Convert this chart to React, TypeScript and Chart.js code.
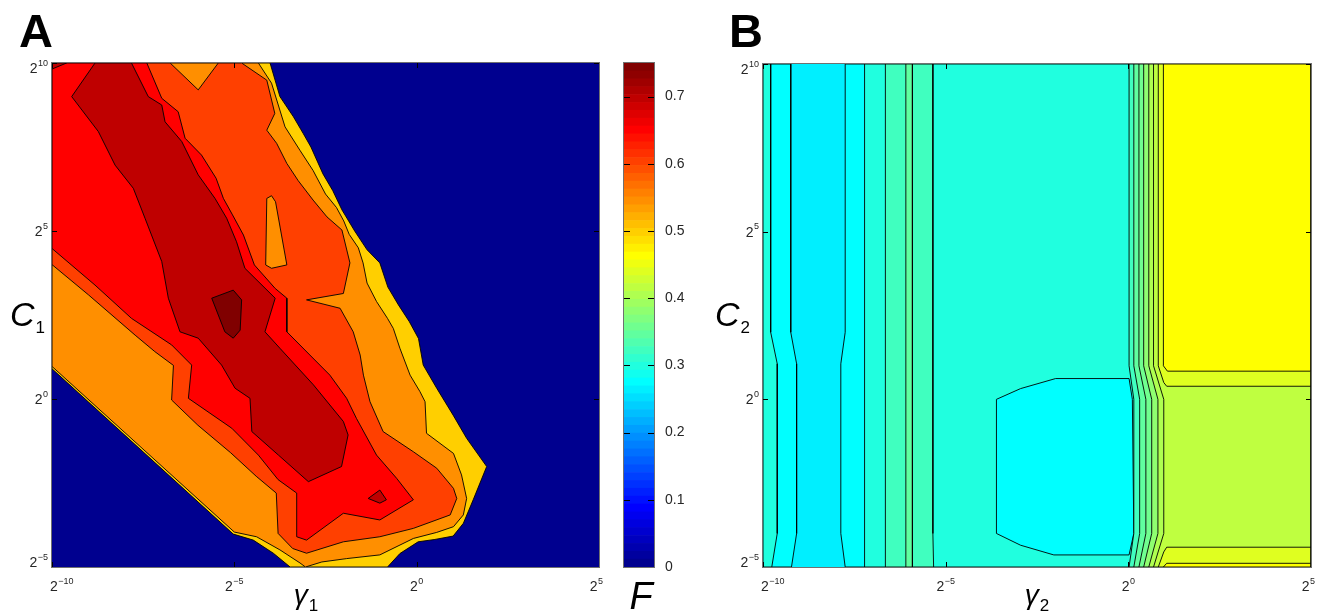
import React, { useEffect, useRef } from 'react';
import { Chart, registerables } from 'chart.js';

Chart.register(...registerables);

const W = 1321;
const H = 612;
const FONT = '"Liberation Sans", Arial, Helvetica, sans-serif';
const CMAX = 0.75; // colour axis upper limit (F)

// ---------------- Panel A : F over (log2 gamma1, log2 C1) ----------------
const A_X_RANGE = [-10, 5];
const A_Y_RANGE = [-5, 10];
const A_X_TICKS = [-10, -5, 0, 5];
const A_Y_TICKS = [-5, 0, 5, 10];

const A_BACKGROUND = [[-10, -5], [5, -5], [5, 10], [-10, 10]];
// superlevel region F >= 0.50
const A_F050 = [
  [-10, 10], [-4.02, 10], [-3.75, 9.0], [-3.38, 8.4], [-3.11, 7.9], [-2.9, 7.5], [-2.57, 6.7], [-2.3, 6.2],
  [-2.05, 5.63], [-1.7, 5.0], [-1.36, 4.44], [-1.01, 4.05], [-0.79, 3.33], [-0.5, 2.8], [-0.2, 2.3], [0.05, 1.8],
  [0.18, 1.01], [0.55, 0.32], [1.0, -0.48], [1.37, -1.17], [1.92, -2.01], [1.55, -3.0], [1.28, -3.7], [1.0, -4.08],
  [0.5, -4.18], [0.04, -4.25], [-0.46, -4.6], [-0.8, -5], [-3.47, -5], [-3.93, -4.59], [-4.48, -4.2],
  [-5.03, -4.02], [-10, 0.9],
];
// F >= 0.55
const A_F055 = [
  [-10, 10], [-4.34, 10], [-3.98, 9.4], [-3.61, 8.1], [-3.2, 7.4], [-2.84, 6.8], [-2.5, 6.1], [-2.2, 5.7],
  [-2.0, 5.3], [-1.85, 4.9], [-1.6, 4.5], [-1.47, 4.05], [-1.36, 3.45], [-1.1, 2.9], [-0.8, 2.4], [-0.64, 2.1],
  [-0.46, 1.51], [-0.18, 0.71], [0.09, 0.22], [0.23, -0.08], [0.27, -1.02], [1.01, -1.62], [1.23, -2.26],
  [1.37, -2.96], [1.28, -3.45], [1.01, -3.8], [0.55, -3.97], [-0.09, -4.15], [-1.01, -4.64], [-1.92, -4.75],
  [-2.6, -4.85], [-3.05, -5.0], [-3.2, -4.88], [-3.75, -4.49], [-4.39, -4.1], [-5.0, -3.96], [-10, 0.97],
];
// F >= 0.60
const A_F060 = [
  [-10, 10], [-6.76, 10], [-5.99, 9.2], [-5.44, 10], [-4.8, 10], [-4.11, 9.49], [-3.89, 8.5], [-4.11, 8.0],
  [-3.84, 7.61], [-3.56, 7.01], [-3.25, 6.5], [-2.84, 5.92], [-2.46, 5.42], [-2.05, 5.03], [-1.83, 4.05],
  [-2.01, 3.14], [-3.02, 2.95], [-2.1, 2.7], [-1.74, 2.0], [-1.55, 1.31], [-1.46, 0.71], [-1.28, -0.08],
  [-0.92, -0.97], [-0.09, -1.57], [0.55, -2.06], [1.01, -2.66], [1.1, -2.96], [0.92, -3.45], [-0.09, -3.85],
  [-1.01, -4.1], [-2.01, -4.25], [-3.02, -4.59], [-3.4, -4.45], [-3.8, -4.0], [-3.85, -2.8], [-4.4, -2.3],
  [-5.1, -1.6], [-6.0, -0.78], [-6.72, -0.03], [-6.67, 1.0], [-7.18, 1.41], [-7.72, 1.9], [-9.0, 3.1], [-10, 4.0],
];
// pocket below 0.60 inside the 0.60 region
const A_POCKET_055 = [[-4.11, 5.97], [-3.98, 6.05], [-3.87, 5.87], [-3.56, 3.99], [-3.98, 3.89], [-4.14, 3.99]];
// F >= 0.65
const A_F065 = [
  [-10, 10], [-7.4, 10], [-6.99, 8.95], [-6.54, 8.55], [-6.35, 7.76], [-5.9, 7.26], [-5.5, 6.57], [-5.3, 5.97],
  [-5.05, 5.48], [-4.75, 4.88], [-4.45, 3.99], [-3.88, 3.29], [-3.56, 3.0], [-3.56, 2.0], [-2.93, 1.31],
  [-2.38, 0.71], [-1.92, 0.02], [-1.65, -0.58], [-1.1, -1.67], [-0.55, -2.36], [-0.09, -3.0], [-1.01, -3.6],
  [-2.01, -3.4], [-3.02, -4.2], [-3.29, -4.1], [-3.29, -2.8], [-3.8, -2.4], [-4.34, -1.67], [-5.07, -0.87],
  [-6.26, 0.02], [-6.17, 1.01], [-6.72, 1.61], [-7.82, 2.4], [-8.82, 3.39], [-10, 4.48],
];
// F >= 0.70
const A_F070 = [
  [-8.82, 10], [-9.46, 9.0], [-8.73, 7.96], [-8.27, 6.96], [-7.77, 6.27], [-7.45, 5.38], [-6.99, 4.09],
  [-6.81, 3.0], [-6.49, 2.0], [-5.99, 1.81], [-5.35, 1.01], [-4.98, 0.32], [-4.57, 0.02], [-4.52, -0.97],
  [-3.79, -1.67], [-2.97, -2.46], [-2.06, -2.01], [-1.88, -1.07], [-2.01, -0.67], [-2.83, 0.42], [-3.75, 1.51],
  [-4.16, 2.0], [-3.88, 3.0], [-4.71, 3.89], [-4.94, 4.68], [-5.21, 5.38], [-5.53, 5.97], [-5.99, 6.67],
  [-6.44, 7.66], [-6.9, 8.25], [-6.99, 8.75], [-7.36, 9.0], [-7.82, 10],
];
const A_CORNER_070 = [[-10, 10], [-9.6, 10], [-10, 9.82]];
const A_PEAK_070 = [[-1.33, -2.96], [-1.01, -2.71], [-0.83, -3.0], [-1.01, -3.1]];
// F >= 0.75
const A_F075 = [[-5.62, 3.0], [-5.03, 3.24], [-4.8, 2.95], [-4.84, 2.05], [-5.03, 1.81], [-5.26, 2.0]];

// ---------------- Panel B : F over (log2 gamma2, log2 C2) ----------------
const B_X_RANGE = [-10, 5];
const B_Y_RANGE = [-5, 10];
const B_X_TICKS = [-10, -5, 0, 5];
const B_Y_TICKS = [-5, 0, 5, 10];

const B_BACKGROUND = [[-10, -5], [5, -5], [5, 10], [-10, 10]]; // 0.26
const B_LEFT_028 = [[-10, 10], [-9.24, 10], [-9.24, 2], [-9.08, 1.06], [-9.08, -4], [-9.22, -5], [-10, -5]];
const B_RIGHT_028 = [[-7.75, 10], [5, 10], [5, -5], [-7.75, -5], [-7.87, -4], [-7.87, 1.06], [-7.75, 2]];
const B_LEFT_030 = [[-10, 10], [-9.79, 10], [-9.79, 2], [-9.61, 1.06], [-9.61, -4], [-9.76, -5], [-10, -5]];
const B_RIGHT_030 = [[-7.22, 10], [5, 10], [5, -5], [-7.22, -5]];
const B_POCKET_028 = [
  [-3.61, 0.0], [-2.95, 0.32], [-1.99, 0.62], [0.02, 0.62], [0.11, 0.0], [0.15, -4.0], [0.02, -4.64],
  [-2.04, -4.64], [-2.95, -4.35], [-3.61, -4.0],
];
const B_STRIP_032 = [[-6.65, 10], [-5.35, 10], [-5.35, -4], [-5.33, -5], [-6.65, -5]];
const B_STRIP_034 = [[-6.09, 10], [-5.91, 10], [-5.91, -5], [-6.09, -5]];
// steep ramp near gamma2 = 2^0 : contour positions of each level
const B_RAMP_LEVELS = [0.32, 0.34, 0.36, 0.38, 0.4, 0.42];
const B_RAMP_X_TOP = [0.02, 0.15, 0.29, 0.42, 0.56, 0.69];
const B_RAMP_X_MID = [0.15, 0.31, 0.48, 0.64, 0.81, 0.97];
const B_RAMP_X_BOT = [0.02, 0.15, 0.29, 0.42, 0.56, 0.69];
const B_RAMP_BENDS = [1.0, 0.0, -4.0]; // log2 C2 rows where the ramp bends
const B_TOP_044 = [[0.82, 10], [5, 10], [5, 0.39], [1.05, 0.39], [0.97, 0.5], [0.82, 1.0]];
const B_BOT_044 = [[0.82, -5], [0.97, -4.55], [1.05, -4.41], [5, -4.41], [5, -5]];
const B_TOP_046 = [[0.96, 10], [5, 10], [5, 0.84], [1.07, 0.84], [0.96, 1.0]];
const B_BOT_046 = [[0.96, -5], [1.05, -4.89], [5, -4.89], [5, -5]];

// ---------------- colour bar ----------------
const CBAR_TICKS = [0, 0.1, 0.2, 0.3, 0.4, 0.5, 0.6, 0.7];
const N_COLORS = 64;

// MATLAB jet(64)
function jetRow(k: number) {
  const u = (j: number) =>
    j >= 1 && j <= 16 ? j / 16 : j >= 17 && j <= 31 ? 1 : j >= 32 && j <= 47 ? (48 - j) / 16 : 0;
  return [u(k - 24), u(k - 8), u(k + 8)];
}
function rowCss(k: number) {
  const [r, g, b] = jetRow(k);
  return `rgb(${Math.round(r * 255)},${Math.round(g * 255)},${Math.round(b * 255)})`;
}
function levelCss(v: number) {
  const k = Math.min(N_COLORS, Math.floor((v / CMAX) * N_COLORS + 1e-9) + 1);
  return rowCss(k);
}

const A_REGIONS = [
  { level: 0, pts: A_BACKGROUND, edge: false },
  { level: 0.5, pts: A_F050 },
  { level: 0.55, pts: A_F055 },
  { level: 0.6, pts: A_F060 },
  { level: 0.55, pts: A_POCKET_055 },
  { level: 0.65, pts: A_F065 },
  { level: 0.7, pts: A_F070 },
  { level: 0.7, pts: A_CORNER_070 },
  { level: 0.7, pts: A_PEAK_070 },
  { level: 0.75, pts: A_F075 },
];

function buildBRegions() {
  const r: any[] = [
    { level: 0.26, pts: B_BACKGROUND, edge: false },
    { level: 0.28, pts: B_LEFT_028 },
    { level: 0.28, pts: B_RIGHT_028 },
    { level: 0.3, pts: B_LEFT_030 },
    { level: 0.3, pts: B_RIGHT_030 },
    { level: 0.28, pts: B_POCKET_028 },
    { level: 0.32, pts: B_STRIP_032 },
    { level: 0.34, pts: B_STRIP_034 },
  ];
  B_RAMP_LEVELS.forEach((lv, i) => {
    const [y1, y0, y4] = B_RAMP_BENDS;
    r.push({
      level: lv,
      pts: [
        [B_RAMP_X_TOP[i], B_Y_RANGE[1]], [B_X_RANGE[1], B_Y_RANGE[1]], [B_X_RANGE[1], B_Y_RANGE[0]],
        [B_RAMP_X_BOT[i], B_Y_RANGE[0]], [B_RAMP_X_MID[i], y4], [B_RAMP_X_MID[i], y0], [B_RAMP_X_TOP[i], y1],
      ],
    });
  });
  r.push({ level: 0.44, pts: B_TOP_044 }, { level: 0.44, pts: B_BOT_044 });
  r.push({ level: 0.46, pts: B_TOP_046 }, { level: 0.46, pts: B_BOT_046 });
  return r;
}

function drawPowLabel(ctx: CanvasRenderingContext2D, exp: number, left: number, base: number) {
  const sup = exp < 0 ? '\u2212' + Math.abs(exp) : String(exp);
  ctx.font = `14px ${FONT}`;
  const wb = ctx.measureText('2').width;
  ctx.fillText('2', left, base);
  ctx.font = `9px ${FONT}`;
  ctx.fillText(sup, left + wb + 0.5, base - 7.5);
}
function powWidth(ctx: CanvasRenderingContext2D, exp: number) {
  const sup = exp < 0 ? '\u2212' + Math.abs(exp) : String(exp);
  ctx.font = `14px ${FONT}`;
  const wb = ctx.measureText('2').width;
  ctx.font = `9px ${FONT}`;
  return wb + 0.5 + ctx.measureText(sup).width;
}

function makeDecor(cfg: any) {
  return {
    id: 'decor',
    afterDraw(chart: any) {
      const { ctx, chartArea: a } = chart;
      const xs = chart.scales.x;
      const ys = chart.scales.y;
      const L = cfg.tickLen;
      ctx.save();
      ctx.lineWidth = 1;
      ctx.strokeStyle = '#000';
      (cfg.xTicks || []).forEach((t: number) => {
        const px = Math.round(xs.getPixelForValue(t)) + 0.5;
        ctx.beginPath();
        ctx.moveTo(px, a.bottom);
        ctx.lineTo(px, a.bottom - L);
        ctx.moveTo(px, a.top);
        ctx.lineTo(px, a.top + L);
        ctx.stroke();
      });
      (cfg.yTicks || []).forEach((t: number) => {
        const py = Math.round(ys.getPixelForValue(t)) + 0.5;
        ctx.beginPath();
        ctx.moveTo(a.left, py);
        ctx.lineTo(a.left + L, py);
        ctx.moveTo(a.right, py);
        ctx.lineTo(a.right - L, py);
        ctx.stroke();
      });
      ctx.strokeStyle = '#707070';
      ctx.strokeRect(a.left - 0.5, a.top - 0.5, a.right - a.left + 1, a.bottom - a.top + 1);

      ctx.fillStyle = '#262626';
      ctx.textAlign = 'left';
      ctx.textBaseline = 'alphabetic';
      if (cfg.powLabels) {
        (cfg.xTicks || []).forEach((t: number) => {
          const w = powWidth(ctx, t);
          let left = xs.getPixelForValue(t) - w / 2;
          left = Math.max(left, a.left - 2);
          left = Math.min(left, a.right + 4 - w);
          drawPowLabel(ctx, t, left, a.bottom + 24);
        });
        (cfg.yTicks || []).forEach((t: number) => {
          const w = powWidth(ctx, t);
          let base = ys.getPixelForValue(t) + 5;
          base = Math.min(Math.max(base, a.top + 10), a.bottom);
          drawPowLabel(ctx, t, a.left - 4 - w, base);
        });
      }
      ctx.fillStyle = '#000';
      const sub = (lab: any, startX: number) => {
        ctx.font = `italic ${lab.size}px ${FONT}`;
        const wm = ctx.measureText(lab.main).width;
        ctx.fillText(lab.main, startX, lab.base);
        if (lab.sub) {
          ctx.font = `${lab.subSize}px ${FONT}`;
          ctx.fillText(lab.sub, startX + wm + 1, lab.subBase);
        }
      };
      if (cfg.xLabel) {
        const lab = cfg.xLabel;
        ctx.font = `italic ${lab.size}px ${FONT}`;
        const wm = ctx.measureText(lab.main).width;
        ctx.font = `${lab.subSize}px ${FONT}`;
        const ws = lab.sub ? ctx.measureText(lab.sub).width + 1 : 0;
        sub(lab, lab.cx - (wm + ws) / 2);
      }
      if (cfg.yLabel) sub(cfg.yLabel, cfg.yLabel.x);
      if (cfg.letter) {
        ctx.font = `bold ${cfg.letter.size}px ${FONT}`;
        ctx.fillText(cfg.letter.text, cfg.letter.x, cfg.letter.base);
      }
      ctx.restore();
    },
  };
}

function contourConfig(regions: any[], pad: any, xr: number[], yr: number[], decor: any) {
  return {
    type: 'line',
    data: {
      datasets: regions.map((r, i) => ({
        data: [...r.pts, r.pts[0]].map(([x, y]: number[]) => ({ x, y })),
        backgroundColor: levelCss(r.level),
        borderColor: r.edge === false ? 'rgba(0,0,0,0)' : '#000',
        borderWidth: r.edge === false ? 1 : 0.9,
        fill: 'shape',
        pointRadius: 0,
        pointHoverRadius: 0,
        pointHitRadius: 0,
        tension: 0,
        borderJoinStyle: 'round',
        order: regions.length - i,
        clip: 0,
      })),
    },
    options: {
      responsive: false,
      animation: false,
      events: [],
      layout: { padding: pad },
      plugins: { legend: { display: false }, tooltip: { enabled: false } },
      scales: {
        x: { type: 'linear', min: xr[0], max: xr[1], display: false },
        y: { type: 'linear', min: yr[0], max: yr[1], display: false },
      },
    },
    plugins: [makeDecor(decor)],
  };
}

function colorbarConfig() {
  const rows = Array.from({ length: N_COLORS }, (_, i) => i + 1);
  return {
    type: 'bar',
    data: {
      labels: ['F'],
      datasets: rows.map((k) => ({
        data: [[((k - 1) / N_COLORS) * CMAX, (k / N_COLORS) * CMAX]],
        backgroundColor: rowCss(k),
        borderWidth: 0,
        grouped: false,
        barPercentage: 1,
        categoryPercentage: 1,
      })),
    },
    options: {
      responsive: false,
      animation: false,
      events: [],
      layout: { padding: { left: 624, top: 63, right: 627, bottom: 45 } },
      plugins: { legend: { display: false }, tooltip: { enabled: false } },
      scales: {
        x: { display: false },
        y: {
          position: 'right',
          min: 0,
          max: CMAX,
          afterBuildTicks: (s: any) => {
            s.ticks = CBAR_TICKS.map((v) => ({ value: v }));
          },
          afterFit: (s: any) => {
            s.width = 40;
          },
          ticks: { color: '#262626', font: { family: FONT, size: 14 }, padding: 3 },
          grid: { display: false },
          border: { display: false },
        },
      },
    },
    plugins: [
      makeDecor({
        yTicks: CBAR_TICKS,
        tickLen: 6,
        xLabel: { main: 'F', sub: '', cx: 641, base: 609, size: 38, subSize: 17 },
      }),
    ],
  };
}

export default function App() {
  const aRef = useRef<HTMLCanvasElement>(null);
  const cRef = useRef<HTMLCanvasElement>(null);
  const bRef = useRef<HTMLCanvasElement>(null);

  useEffect(() => {
    const charts: any[] = [];
    charts.push(
      new Chart(
        aRef.current as any,
        contourConfig(A_REGIONS, { left: 52, top: 63, right: W - 599, bottom: H - 567 }, A_X_RANGE, A_Y_RANGE, {
          xTicks: A_X_TICKS,
          yTicks: A_Y_TICKS,
          tickLen: 5,
          powLabels: true,
          xLabel: { main: '\u03b3', sub: '1', cx: 306, base: 604, subBase: 611, size: 28, subSize: 17 },
          yLabel: { main: 'C', sub: '1', x: 10, base: 326, subBase: 333, size: 34, subSize: 17 },
          letter: { text: 'A', x: 19, base: 47, size: 47 },
        }) as any,
      ),
    );
    charts.push(new Chart(cRef.current as any, colorbarConfig() as any));
    charts.push(
      new Chart(
        bRef.current as any,
        contourConfig(buildBRegions(), { left: 763, top: 64, right: W - 1311, bottom: H - 567 }, B_X_RANGE, B_Y_RANGE, {
          xTicks: B_X_TICKS,
          yTicks: B_Y_TICKS,
          tickLen: 5,
          powLabels: true,
          xLabel: { main: '\u03b3', sub: '2', cx: 1037, base: 604, subBase: 611, size: 28, subSize: 17 },
          yLabel: { main: 'C', sub: '2', x: 715, base: 326, subBase: 333, size: 34, subSize: 17 },
          letter: { text: 'B', x: 729, base: 47, size: 47 },
        }) as any,
      ),
    );
    return () => charts.forEach((c) => c.destroy());
  }, []);

  const cs: React.CSSProperties = { position: 'absolute', left: 0, top: 0 };
  return (
    <div style={{ position: 'absolute', left: 0, top: 0, width: W, height: H, background: '#fff' }}>
      <canvas ref={aRef} width={W} height={H} style={cs} />
      <canvas ref={cRef} width={W} height={H} style={cs} />
      <canvas ref={bRef} width={W} height={H} style={cs} />
    </div>
  );
}
